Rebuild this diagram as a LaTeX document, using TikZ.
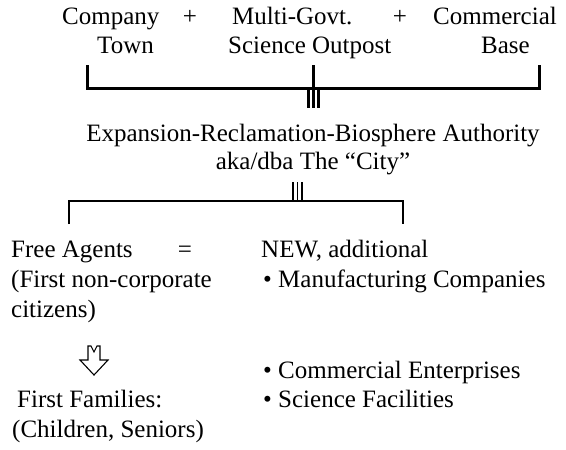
\documentclass[tikz,border=0pt]{standalone}
\usepackage{fontspec}
\setmainfont{Liberation Serif}
\begin{document}
\begin{tikzpicture}[x=1pt,y=-1pt,
    every node/.style={font=\fontsize{25}{30}\selectfont,inner sep=0pt},
    lbl/.style={anchor=base west},
    ctr/.style={anchor=base}]
  \useasboundingbox (0,0) rectangle (566,450);
  % top row
  \node[lbl] (company) at (62,24) {Company};
  \node[ctr] (plusa) at (190,24) {+};
  \node[lbl] (multi) at (232,24) {Multi-Govt.};
  \node[ctr] (plusb) at (400,24) {+};
  \node[lbl] (commercial) at (433,24) {Commercial};
  \node[lbl] (town) at (97,53) {Town};
  \node[lbl] (outpost) at (228,53) {Science Outpost};
  \node[anchor=base east] (base) at (530,53) {Base};
  % first bracket
  \coordinate (bkl) at (87,65);
  \coordinate (bkm) at (313.5,65);
  \coordinate (bkr) at (539,65);
  \draw[line width=3pt] (bkl) -- ++(0,23) -| (bkr);
  \draw[line width=2.4pt] (bkm) -- ++(0,43);
  \foreach \x in {308.5,318.5}
    \draw[line width=2.4pt] (\x,88) -- (\x,108);
  % authority
  \node[ctr] (authority) at (313,141) {Expansion-Reclamation-Biosphere Authority};
  \node[ctr] (city) at (313,169) {aka/dba The “City”};
  % second bracket
  \foreach \x in {293,297.5,302}
    \draw[line width=1.8pt] (\x,182) -- (\x,201);
  \coordinate (bjl) at (69,224);
  \coordinate (bjr) at (403,224);
  \draw[line width=2.4pt] (bjl) |- (bjr |- 0,201) -- (bjr);
  % left column
  \node[lbl] (agents) at (11,257) {Free Agents};
  \node[ctr] (equals) at (185,257) {=};
  \node[lbl] (noncorp) at (11,287) {(First non-corporate};
  \node[lbl] (citizens) at (11,317) {citizens)};
  \node[lbl] (families) at (17,407) {First Families:};
  \node[lbl] (children) at (12,437) {(Children, Seniors)};
  % hollow arrow
  \draw[line width=1.1pt,line join=miter]
    (88,346) -- (91,346) -- (94,352) -- (97,346) -- (100,346) -- (100,360)
    -- (108,360) -- (94,375) -- (80,360) -- (88,360) -- cycle;
  % right column
  \node[lbl] (new) at (261,257) {NEW, additional};
  \node[lbl] (manuf) at (263,287) {• Manufacturing Companies};
  \node[lbl] (enterp) at (263,378) {• Commercial Enterprises};
  \node[lbl] (facil) at (263,407) {• Science Facilities};
\end{tikzpicture}
\end{document}
